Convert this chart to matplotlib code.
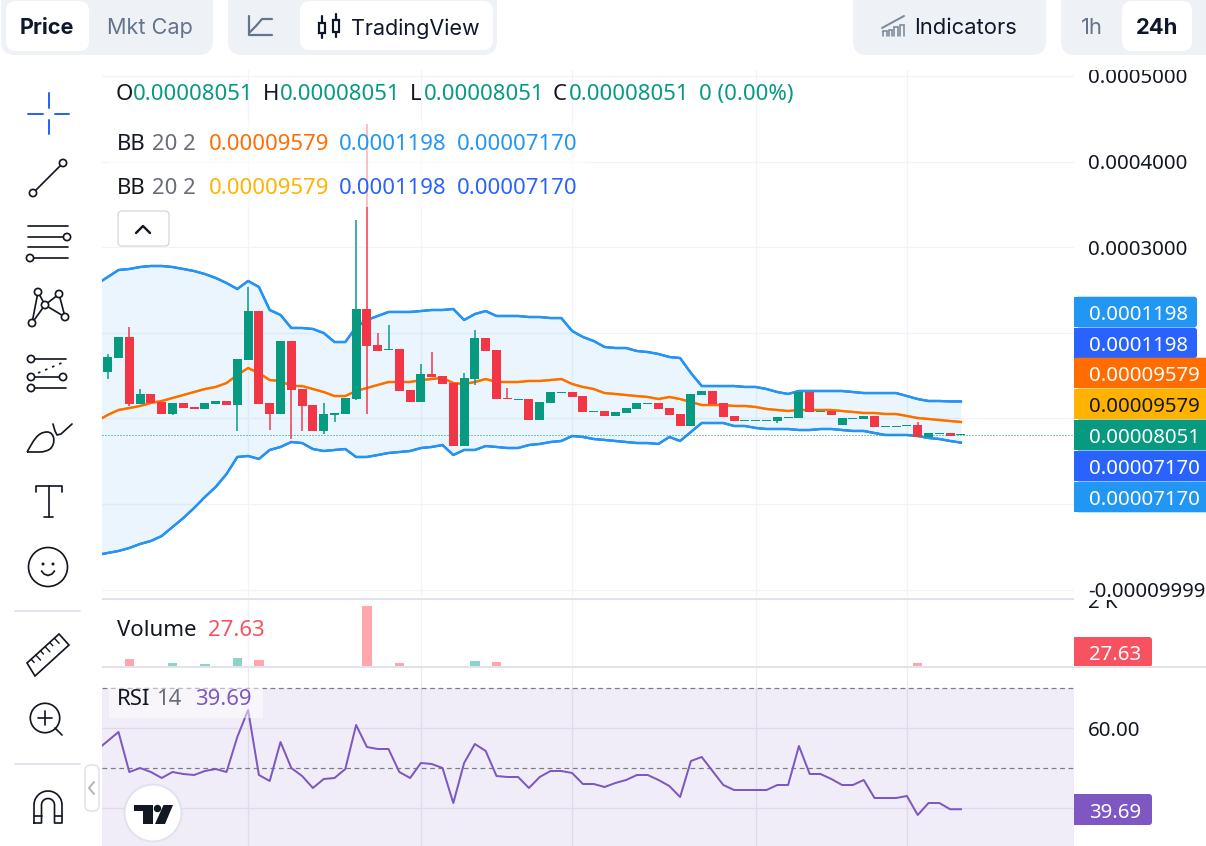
import numpy as np
import matplotlib
matplotlib.use("Agg")
import matplotlib.pyplot as plt
from matplotlib.patches import Circle, FancyBboxPatch, PathPatch, Polygon, Rectangle
from matplotlib.path import Path
from matplotlib.ticker import FixedFormatter, FixedLocator
from matplotlib.transforms import Bbox, TransformedBbox

# ---------------------------------------------------------------- data
# Prices are listed in millionths of the quote unit.
MICRO = 1e-6

opens = [154.2, 170.5, 195.1, 116.8, 128.5, 119.1, 105.1, 118.0, 113.3, 111.0,
         116.8, 120.3, 115.6, 168.2, 225.4, 118.0, 105.1, 190.4, 134.3, 115.6,
         85.3, 104.0, 105.1, 122.6, 227.8, 185.7, 179.9, 181.0, 133.2, 119.1,
         151.8, 149.5, 141.3, 67.7, 146.0, 193.9, 179.9, 123.8, 121.5, 122.6,
         98.1, 118.0, 129.6, 130.8, 126.1, 107.5, 108.6, 102.8, 106.3, 111.0,
         116.8, 118.0, 112.1, 105.1, 91.1, 127.3, 132.0, 118.0, 102.8, 96.9,
         96.9, 96.9, 96.9, 100.4, 100.4, 130.8, 107.5, 108.6, 92.3, 99.3,
         99.3, 102.8, 89.9, 89.9, 91.1, 92.3, 78.3, 81.8, 82.9, 80.51]
closes = [171.7, 195.1, 116.8, 128.5, 118.0, 105.1, 118.0, 112.1, 111.0, 118.0,
          120.3, 115.6, 169.4, 225.4, 116.8, 105.1, 190.4, 133.2, 114.5, 85.3,
          105.1, 106.3, 123.8, 227.8, 184.5, 178.7, 181.0, 132.0, 119.1, 151.8,
          148.3, 140.2, 67.7, 147.2, 193.9, 178.7, 122.6, 122.6, 122.6, 98.1,
          119.1, 130.8, 130.8, 125.0, 107.5, 108.6, 102.8, 107.5, 112.1, 118.0,
          118.0, 111.0, 104.0, 91.1, 128.5, 132.0, 116.8, 101.6, 96.9, 98.1,
          98.1, 98.1, 101.6, 101.6, 130.8, 107.5, 108.6, 104.0, 100.4, 100.4,
          102.8, 89.9, 91.1, 91.1, 92.3, 78.3, 82.9, 82.9, 79.4, 80.51]
highs = [175.2, 195.1, 206.7, 134.3, 128.5, 119.1, 118.0, 118.0, 113.3, 118.0,
         120.3, 120.3, 169.4, 253.5, 225.4, 118.0, 190.4, 190.4, 134.3, 115.6,
         118.0, 106.3, 123.8, 331.7, 443.8, 199.7, 209.1, 181.0, 133.2, 163.5,
         177.5, 149.5, 141.3, 153.0, 203.2, 193.9, 179.9, 135.5, 122.6, 122.6,
         119.1, 130.8, 130.8, 130.8, 126.1, 108.6, 108.6, 107.5, 112.1, 118.0,
         118.0, 118.0, 112.1, 105.1, 128.5, 132.0, 132.0, 118.0, 102.8, 98.1,
         98.1, 98.1, 101.6, 101.6, 130.8, 130.8, 108.6, 108.6, 100.4, 100.4,
         102.8, 102.8, 91.1, 91.1, 92.3, 95.8, 82.9, 82.9, 82.9, 80.51]
lows = [146.0, 170.5, 114.5, 116.8, 118.0, 105.1, 104.0, 112.1, 111.0, 111.0,
        116.8, 115.6, 85.3, 168.2, 116.8, 86.4, 105.1, 75.9, 85.3, 85.3,
        81.8, 95.8, 105.1, 121.5, 105.1, 178.7, 179.9, 132.0, 119.1, 119.1,
        148.3, 140.2, 67.7, 67.7, 139.0, 178.7, 122.6, 122.6, 121.5, 98.1,
        98.1, 118.0, 129.6, 125.0, 107.5, 107.5, 102.8, 102.8, 106.3, 111.0,
        116.8, 111.0, 104.0, 91.1, 91.1, 127.3, 116.8, 101.6, 96.9, 96.9,
        96.9, 96.9, 94.6, 100.4, 100.4, 107.5, 107.5, 104.0, 92.3, 99.3,
        99.3, 89.9, 89.9, 89.9, 91.1, 78.3, 78.3, 81.8, 79.4, 80.51]

# Bollinger bands start one session before the first visible candle.
band_upper = [257.0, 265.1, 273.3, 274.5, 276.8, 278.0, 278.0, 276.8, 274.5, 272.1,
              268.6, 264.0, 258.1, 251.1, 260.5, 253.5, 226.6, 220.8, 205.6, 205.6,
              204.4, 199.7, 189.2, 189.2, 206.7, 214.9, 219.6, 224.3, 224.3, 224.3,
              225.4, 226.6, 226.6, 227.8, 214.9, 221.9, 225.4, 219.6, 219.6, 219.6,
              218.4, 218.4, 217.2, 217.2, 202.1, 195.1, 190.4, 183.4, 182.2, 182.2,
              178.7, 177.5, 175.2, 171.7, 170.5, 153.0, 137.8, 137.8, 137.8, 137.8,
              136.7, 136.7, 134.3, 130.8, 128.5, 132.0, 132.0, 132.0, 132.0, 132.0,
              130.8, 129.6, 129.6, 129.6, 129.6, 126.1, 122.6, 120.3, 120.3, 119.8, 119.8]
band_middle = [96.9, 104.0, 109.8, 112.1, 114.5, 118.0, 120.3, 123.8, 127.3, 130.8,
               134.3, 136.7, 141.3, 150.7, 158.8, 153.0, 144.8, 143.7, 137.8, 137.8,
               134.3, 130.8, 126.1, 126.1, 132.0, 135.5, 139.0, 142.5, 142.5, 142.5,
               144.8, 146.0, 147.2, 141.3, 140.2, 142.5, 146.0, 142.5, 142.5, 142.5,
               143.7, 143.7, 144.8, 146.0, 140.2, 136.7, 134.3, 129.6, 128.5, 127.3,
               126.1, 125.0, 122.6, 125.0, 122.6, 119.1, 115.6, 115.6, 115.6, 114.5,
               114.5, 113.3, 111.0, 109.8, 108.6, 109.8, 109.8, 109.8, 109.8, 108.6,
               107.5, 106.3, 106.3, 105.1, 105.1, 102.8, 100.4, 99.3, 98.1, 96.9, 95.79]
band_lower = [-59.6, -57.2, -54.9, -51.4, -46.7, -43.2, -37.4, -26.9, -16.4, -4.7,
              8.2, 19.9, 35.0, 54.9, 56.1, 52.6, 63.1, 66.6, 72.4, 71.2,
              64.2, 61.9, 63.1, 64.2, 54.9, 54.9, 57.2, 59.6, 60.7, 61.9,
              65.4, 66.6, 68.9, 57.2, 63.1, 63.1, 67.7, 66.6, 65.4, 65.4,
              68.9, 70.1, 72.4, 73.6, 79.4, 78.3, 75.9, 74.8, 73.6, 72.4,
              71.2, 71.2, 70.1, 78.3, 73.6, 84.1, 94.6, 94.6, 94.6, 91.1,
              91.1, 88.8, 87.6, 87.6, 87.6, 86.4, 86.4, 87.6, 87.6, 86.4,
              85.3, 85.3, 82.9, 80.6, 80.6, 80.6, 79.4, 77.1, 75.9, 73.6, 71.70]

volumes = [20, 14, 252, 18, 16, 12, 133, 10, 14, 104,
           12, 15, 281, 40, 222, 18, 25, 30, 22, 20,
           14, 10, 18, 44, 1822, 30, 24, 133, 20, 22,
           12, 16, 35, 30, 192, 18, 163, 12, 10, 20,
           18, 16, 10, 14, 20, 10, 12, 10, 14, 16,
           10, 12, 14, 22, 30, 12, 18, 16, 12, 8,
           8, 8, 10, 8, 30, 26, 8, 12, 14, 8,
           10, 18, 8, 8, 8, 133, 12, 10, 14, 27.63]

rsi_values = [54.5, 56.75, 59, 49, 50, 49, 47.5, 49, 48.5, 48.25,
              49.25, 49.75, 49, 57.75, 64.5, 48.25, 46.75, 56.5, 50, 48,
              45, 47.25, 47.5, 49.75, 60.75, 55.25, 54.75, 54.75, 49, 47.5,
              51.25, 51, 50, 41.25, 51.25, 56, 54.25, 48, 47.75, 47.75,
              45, 47.75, 49.25, 49.25, 48.75, 46, 46, 45.25, 46.25, 47,
              48.25, 48.25, 47, 45.5, 42.75, 51.75, 52.75, 49.25, 45.75, 44.5,
              44.5, 44.5, 44.5, 45.75, 45.75, 55.5, 48.5, 48.5, 47.25, 45.75,
              45.75, 47, 42.5, 42.5, 42.5, 43, 38.25, 41.25, 41.25, 39.69, 39.69]

# Grid levels whose scale text would sit under the value tags carry no label.
price_ticks = [-1e-4, 0, 1e-4, 2e-4, 3e-4, 4e-4, 5e-4]
price_tick_labels = ["-0.00009999", "", "", "", "0.0003000", "0.0004000", "0.0005000"]
time_ticks = [13, 29, 43, 60, 74]
last_ohlc = "0.00008051"
change_text = "0 (0.00%)"

# ---------------------------------------------------------------- styling
W, H = 1206, 846
GREEN, RED = "#089981", "#F23645"
SKY, ROYAL = "#2196F3", "#2962FF"
ORANGE, AMBER = "#FF6D00", "#FFB300"
PURPLE = "#7E57C2"
INK, GREY = "#131722", "#6A6D78"
GRID, SEPARATOR = "#F0F3FA", "#E0E3EB"
CHROME, SLATE, DARK = "#EEF1F5", "#64748B", "#0F172A"
SCALE_FONT = "Noto Sans"
UI_FONT = "Inter"
PX = 72 / 100

plt.rcParams["font.family"] = [SCALE_FONT, "DejaVu Sans"]
fig = plt.figure(figsize=(W / 100, H / 100), dpi=100, facecolor="white")


def pane(left, top, right, bottom):
    ax = fig.add_axes([left / W, 1 - bottom / H, (right - left) / W, (bottom - top) / H])
    for side in ax.spines.values():
        side.set_visible(False)
    ax.set_xlim(-0.528, 89.47)
    ax.xaxis.set_major_locator(FixedLocator(time_ticks))
    ax.tick_params(axis="x", length=0, labelbottom=False)
    ax.yaxis.tick_right()
    ax.tick_params(axis="y", length=0, pad=14 * PX, labelsize=14.7, labelcolor=INK)
    ax.grid(True, color=GRID, lw=1.3 * PX)
    ax.set_axisbelow(True)
    return ax


candle_x = np.arange(len(opens))
band_x = np.arange(-1, len(opens))

# ---------------------------------------------------------------- price pane
ax_price = pane(102, 70, 1074, 597)
ax_price.set_ylim((504 - 597) * 1.168e-6, (504 - 70) * 1.168e-6)
ax_price.yaxis.set_major_locator(FixedLocator(price_ticks))
ax_price.yaxis.set_major_formatter(FixedFormatter(price_tick_labels))

upper = np.array(band_upper) * MICRO
middle = np.array(band_middle) * MICRO
lower = np.array(band_lower) * MICRO
ax_price.fill_between(band_x, upper, lower, color=SKY, alpha=0.095, lw=0, zorder=1)
for band_color, mid_color in ((ROYAL, AMBER), (SKY, ORANGE)):
    ax_price.plot(band_x, upper, color=band_color, lw=2.3 * PX, zorder=2)
    ax_price.plot(band_x, lower, color=band_color, lw=2.3 * PX, zorder=2)
    ax_price.plot(band_x, middle, color=mid_color, lw=2.3 * PX, zorder=2)

o = np.array(opens) * MICRO
c = np.array(closes) * MICRO
hi = np.array(highs) * MICRO
lo = np.array(lows) * MICRO
rising = c >= o
candle_colors = [GREEN if up else RED for up in rising]
ax_price.vlines(candle_x, lo, hi, colors=candle_colors, lw=1.5 * PX, zorder=3)
one_px = 1.168e-6
ax_price.bar(candle_x, np.maximum(np.abs(c - o), one_px), bottom=np.minimum(o, c),
             width=0.83, color=candle_colors, lw=0, zorder=4)
ax_price.axhline(c[-1], color=GREEN, lw=1 * PX, dashes=(1, 2), zorder=5)

# ---------------------------------------------------------------- volume pane
ax_volume = pane(102, 600, 1074, 667.5)
ax_volume.set_ylim(0, 67.5 * 2000 / 67.0)
ax_volume.yaxis.set_major_locator(FixedLocator([2000]))
ax_volume.yaxis.set_major_formatter(FixedFormatter(["2 K"]))
ax_volume.grid(False, axis="y")
volume_colors = ["#8ED4C6" if up else "#FFA7AC" for up in rising]
ax_volume.bar(candle_x, volumes, width=0.88, color=volume_colors, lw=0, zorder=3)

# ---------------------------------------------------------------- RSI pane
ax_rsi = pane(102, 668, 1074, 846)
ax_rsi.set_ylim(242 - 846 / 4, 242 - 668 / 4)
ax_rsi.yaxis.set_major_locator(FixedLocator([40, 60]))
ax_rsi.yaxis.set_major_formatter(FixedFormatter(["", "60.00"]))
ax_rsi.grid(True, color="#ECEAF2", lw=1.3 * PX)
ax_rsi.axhspan(30, 70, color=PURPLE, alpha=0.105, lw=0, zorder=1)
for level in (70, 50):
    ax_rsi.axhline(level, color="#787B86", lw=1.2 * PX, dashes=(4, 3), zorder=2)
ax_rsi.plot(band_x, rsi_values, color=PURPLE, lw=2 * PX, zorder=3)

# ---------------------------------------------------------------- interface layer in pixels
ui = fig.add_axes([0, 0, 1, 1], zorder=10)
ui.set_xlim(0, W)
ui.set_ylim(H, 0)
ui.axis("off")
ui.patch.set_alpha(0)

for axis_pane in (ax_price, ax_volume):
    top_edge = 70 if axis_pane is ax_price else 600
    for tick_text in axis_pane.get_yticklabels():
        tick_text.set_clip_box(TransformedBbox(Bbox([[1074, top_edge], [1206, 667]]), ui.transData))
        tick_text.set_clip_on(True)


def box(x0, y0, x1, y1, color, radius=10, edge="none", lw=0.0, alpha=None, z=1):
    ui.add_patch(FancyBboxPatch((x0, y0), x1 - x0, y1 - y0,
                                boxstyle=f"round,pad=0,rounding_size={radius}",
                                fc=color, ec=edge, lw=lw, alpha=alpha, zorder=z))


def label(x, y, s, color=INK, size=15.95, font=SCALE_FONT, weight="normal", ha="left", z=6):
    ui.text(x, y, s, color=color, fontsize=size, family=font, weight=weight,
            ha=ha, va="center_baseline", zorder=z)


def stroke(xs, ys, color=INK, lw=1.7, z=3, **kw):
    ui.plot(xs, ys, color=color, lw=lw * PX, solid_capstyle="round", zorder=z, **kw)


def ring(x, y, r=3.6, color=INK, lw=1.7):
    ui.add_patch(Circle((x, y), r, fc="white", ec=color, lw=lw * PX, zorder=4))


# header groups
box(1, -12, 213, 55, CHROME, 14)
box(6, 1, 89, 51, "white", 10, z=2)
label(47, 26.5, "Price", DARK, 15.6, UI_FONT, "bold", "center")
label(150, 26.5, "Mkt Cap", SLATE, 15.6, UI_FONT, "normal", "center")

box(228, -12, 497, 55, CHROME, 14)
box(300, 1, 493, 50, "white", 10, z=2)
stroke([249, 249, 272], [16, 35, 35], SLATE, 2.2)
stroke([250, 256, 262, 272], [32, 26, 19, 19], SLATE, 2.2)
for cx, top, bot, tip, tail in ((322, 23, 33, 16, 38), (336, 20, 32, 14, 37)):
    stroke([cx, cx], [tip, tail], DARK, 2.2)
    ui.add_patch(Rectangle((cx - 3.2, top), 6.4, bot - top, fc="white", ec=DARK,
                           lw=2.2 * PX, zorder=4))
label(415, 26.5, "TradingView", DARK, 15.5, UI_FONT, "normal", "center")

box(853, -12, 1046, 55, CHROME, 14)
stroke([882, 893, 904], [28, 22, 16], "#7D8A9C", 2)
for bx, btop in ((883, 31), (888.5, 30), (894, 27), (900, 25)):
    stroke([bx, bx + 3.5], [btop, btop], "#7D8A9C", 1.6)
    stroke([bx, bx], [btop, 36], "#7D8A9C", 1.6)
    stroke([bx + 3.5, bx + 3.5], [btop, 36], "#7D8A9C", 1.6)
label(966, 26.5, "Indicators", DARK, 15.8, UI_FONT, "normal", "center")

box(1061, -12, 1240, 55, CHROME, 14)
box(1122, 1, 1192, 51, "white", 10, z=2)
label(1092, 26.5, "1h", SLATE, 15.8, UI_FONT, "normal", "center")
label(1157, 26.5, "24h", DARK, 15.8, UI_FONT, "bold", "center")

# legend rows and their translucent backing
ui.add_patch(Rectangle((109, 122), 476, 85, fc="white", alpha=0.6, lw=0, zorder=1))
for x, s in ((116, "O"), (263, "H"), (410, "L"), (553, "C")):
    label(x, 92, s)
for x in (133, 280, 424, 569):
    label(x, 92, last_ohlc, GREEN)
label(699, 92, change_text, GREEN)
for y, mid, edge in ((142, ORANGE, SKY), (186, AMBER, ROYAL)):
    label(117, y, "BB")
    label(152, y, "20 2", GREY)
    label(209, y, f"{band_middle[-1] * MICRO:.8f}", mid)
    label(339, y, f"{band_upper[-1] * MICRO:.7f}", edge)
    label(457, y, f"{band_lower[-1] * MICRO:.8f}", edge)

box(118, 211, 169, 246, "white", 4, "#D1D4DC", 1.2 * PX)
stroke([136, 143, 150], [233, 226, 233], INK, 2.4)

label(117, 628, "Volume")
label(208, 628, "27.63", "#F7525F")

ui.add_patch(Rectangle((109, 688), 154, 30, fc="white", alpha=0.5, lw=0, zorder=1))
label(117, 697, "RSI")
label(156, 697, "14", GREY)
label(195, 697, f"{rsi_values[-1]:.2f}", PURPLE)

# pane separators
ui.add_patch(Rectangle((102, 598), 972, 2, fc=SEPARATOR, lw=0, zorder=5))
ui.add_patch(Rectangle((102, 666), 1104, 2, fc=SEPARATOR, lw=0, zorder=8))

# last-value tags on the price scale
tags = [
    (312, f"{band_upper[-1] * MICRO:.7f}", SKY, "white", 1197),
    (343, f"{band_upper[-1] * MICRO:.7f}", ROYAL, "white", 1197),
    (373, f"{band_middle[-1] * MICRO:.8f}", ORANGE, "white", 1215),
    (404, f"{band_middle[-1] * MICRO:.8f}", AMBER, INK, 1215),
    (435, last_ohlc, GREEN, "white", 1215),
    (466, f"{band_lower[-1] * MICRO:.8f}", ROYAL, "white", 1215),
    (497, f"{band_lower[-1] * MICRO:.8f}", SKY, "white", 1215),
]
for y, text, color, ink, right in tags:
    ui.add_patch(Rectangle((1074, y - 15.3), 8, 30.6, fc=color, lw=0, zorder=4))
    box(1076, y - 15.3, right, y + 15.3, color, 3, z=4)
    label(1089, y + 0.5, text, ink, 14.7)
for y0, y1, text, color in ((637, 667, "27.63", "#F7525F"), (794, 825, "39.69", PURPLE)):
    ui.add_patch(Rectangle((1074, y0), 8, y1 - y0, fc=color, lw=0, zorder=4))
    box(1076, y0, 1152, y1, color, 3, z=4)
    label(1089, (y0 + y1) / 2 + 0.5, text, "white", 14.7)

# drawing toolbar on the left edge
for x0, x1, y0, y1 in ((49, 49, 93, 108), (49, 49, 120, 134), (28, 43, 114, 114), (55, 69, 114, 114)):
    stroke([x0, x1], [y0, y1], ROYAL, 2, solid_joinstyle="miter")

stroke([33, 63], [193, 163])
ring(63, 163)
ring(33, 193)

for y in (226, 237, 247, 258):
    stroke([28, 68], [y, y])
ring(67, 237)
ring(30, 258)

nodes = {"a": (38, 292), "b": (59, 294), "c": (45, 305), "d": (32, 323), "e": (65, 317)}
for u, v in ("ad", "ac", "ce", "cd", "be", "bc"):
    stroke([nodes[u][0], nodes[v][0]], [nodes[u][1], nodes[v][1]])
for nx, ny in nodes.values():
    ring(nx, ny)

for y in (359, 377, 388):
    stroke([31, 66], [y, y])
stroke([38, 64], [373, 362], lw=1.7, ls=(0, (1.5, 3)))
for x, y in ((31, 359), (31, 377), (63, 377), (31, 388)):
    ring(x, y)

leaf = Path([(27, 452), (33, 442), (37, 432), (47, 432), (55, 432), (56, 444), (50, 449),
             (46, 452), (40, 452), (27, 452)],
            [Path.MOVETO, Path.CURVE4, Path.CURVE4, Path.CURVE4, Path.CURVE4, Path.CURVE4,
             Path.CURVE4, Path.CURVE3, Path.CURVE3, Path.LINETO])
ui.add_patch(PathPatch(leaf, fc="none", ec=INK, lw=1.7 * PX, zorder=3))
stroke([53, 55, 57, 61, 72], [424, 431, 435, 434, 424])

stroke([36, 36, 62, 62], [492, 486, 486, 492])
stroke([49, 49], [486, 517])
stroke([44, 53], [517, 517])

ui.add_patch(Circle((48, 567), 19.5, fc="none", ec=INK, lw=1.7 * PX, zorder=3))
ui.add_patch(Circle((43, 564), 1.5, fc=INK, lw=0, zorder=3))
ui.add_patch(Circle((53, 564), 1.5, fc=INK, lw=0, zorder=3))
stroke([41.5, 44, 48, 52, 54.5], [571, 574, 575.5, 574, 571])

stroke([15, 80], [611, 611], SEPARATOR, 2)
stroke([15, 80], [764, 764], SEPARATOR, 2)

ui.add_patch(Polygon([(27, 663), (59, 634), (69, 645), (35, 676)], closed=True, fc="none",
                     ec=INK, lw=1.7 * PX, zorder=3))
for k, t in enumerate(np.arange(0.13, 0.99, 0.145)):
    tx, ty = 27 + 32 * t, 663 - 29 * t
    reach = 7 if k % 2 else 4.5
    stroke([tx, tx + reach * 0.68], [ty, ty + reach * 0.73], lw=1.4)

ui.add_patch(Circle((45, 718), 14.7, fc="none", ec=INK, lw=1.7 * PX, zorder=3))
stroke([45, 45], [711, 725])
stroke([38, 52], [718, 718])
stroke([55, 62], [728, 735])

box(85, 765, 99, 811, "white", 6, SEPARATOR, 1.6 * PX)
stroke([94, 89, 94], [782, 788, 794], "#B2B5BE", 2)

magnet_t = np.linspace(np.pi, 2 * np.pi, 30)
outer_x = 48 + 14 * np.cos(magnet_t)
outer_y = 805 + 14 * np.sin(magnet_t)
inner_x = 48 + 6.5 * np.cos(magnet_t[::-1])
inner_y = 805 + 6.5 * np.sin(magnet_t[::-1])
stroke(np.r_[34, outer_x, 62, 54.5, inner_x, 41.5, 34], np.r_[823, outer_y, 823, 823, inner_y, 823, 823])
stroke([34, 41.5], [816, 816])
stroke([54.5, 62], [816, 816])

# floating logo badge
ui.add_patch(Circle((153, 813), 28.5, fc="white", ec=SEPARATOR, lw=2 * PX, zorder=6))
ui.add_patch(Polygon([(134, 805), (153, 805), (153, 824), (143, 824), (143, 811.5), (134, 811.5)],
                     closed=True, fc=INK, lw=0, zorder=7))
ui.add_patch(Circle((157.5, 808.5), 3.7, fc=INK, lw=0, zorder=7))
ui.add_patch(Polygon([(163.5, 805), (173, 805), (165, 824), (155, 824)], closed=True, fc=INK,
                     lw=0, zorder=7))

fig.savefig("out.png", dpi=100, facecolor="white")
